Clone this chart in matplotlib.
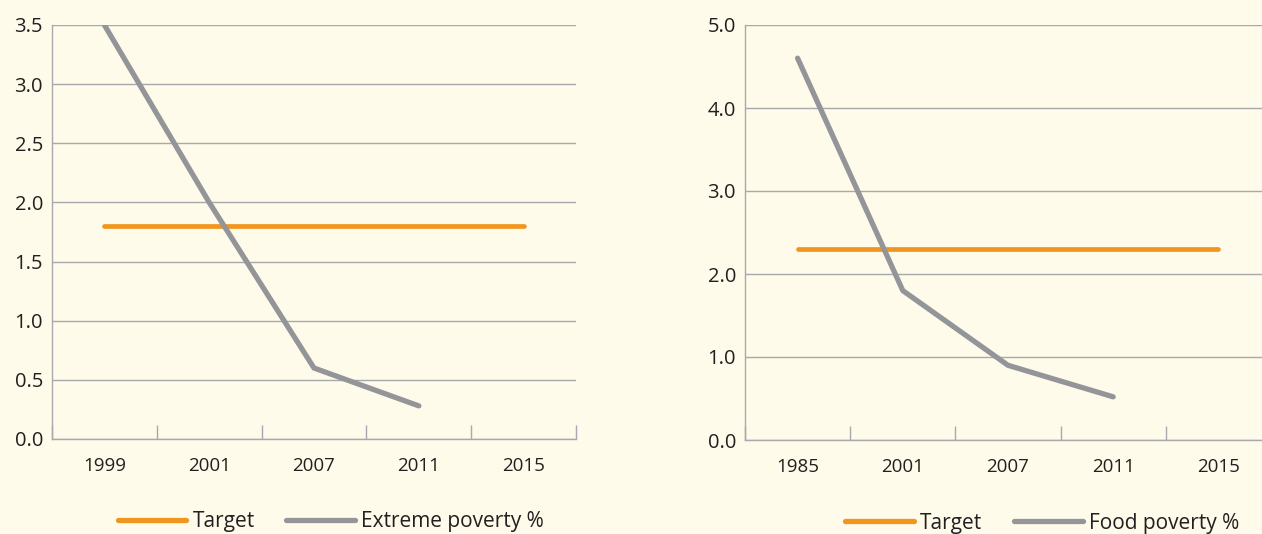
import matplotlib.pyplot as plt
from matplotlib.lines import Line2D

# left panel
years_l = ["1999", "2001", "2007", "2011", "2015"]
extreme = [3.5, 2.0, 0.6, 0.28]
target_l = [1.8, 1.8, 1.8, 1.8, 1.8]

# right panel
years_r = ["1985", "2001", "2007", "2011", "2015"]
food = [4.6, 1.8, 0.9, 0.52]
target_r = [2.3, 2.3, 2.3, 2.3, 2.3]

BG = "#fffbea"
ORANGE = "#f0961f"
GREY = "#939598"
GRID = "#a7a9ac"
TXT = "#231f20"

plt.rcParams['font.family'] = ['Open Sans', 'DejaVu Sans']

fig = plt.figure(figsize=(12.62, 5.34), dpi=100, facecolor=BG)


def panel(rect, years, series, target, ymax, ystep, name, leg_x):
    ax = fig.add_axes(rect)
    ax.set_facecolor(BG)
    x = list(range(len(years)))
    ax.plot(x, target, color=ORANGE, lw=3.4, solid_capstyle='round', zorder=3)
    ax.plot(x[:len(series)], series, color=GREY, lw=3.8, solid_capstyle='round', zorder=4)
    ax.set_xlim(-0.5, len(years) - 0.5)
    ax.set_ylim(0, ymax)
    yt = [i * ystep for i in range(int(round(ymax / ystep)) + 1)]
    ax.set_yticks(yt)
    ax.set_yticklabels(["{:.1f}".format(v) for v in yt], color=TXT, fontsize=14.5)
    ax.set_xticks(x)
    ax.set_xticklabels(years, color=TXT, fontsize=13.5)
    ax.set_xticks([i + 0.5 for i in range(-1, len(years))], minor=True)
    ax.tick_params(axis='x', which='major', length=0, pad=13)
    ax.tick_params(axis='x', which='minor', direction='in', length=10, color=GRID, width=1)
    ax.tick_params(axis='y', length=0, pad=6.5)
    ax.grid(axis='y', color=GRID, lw=1)
    ax.set_axisbelow(True)
    for s in ['top', 'right']:
        ax.spines[s].set_visible(False)
    for s in ['left', 'bottom']:
        ax.spines[s].set_color(GRID)
        ax.spines[s].set_linewidth(1)
    handles = [Line2D([], [], color=ORANGE, lw=3.8, solid_capstyle='round'),
               Line2D([], [], color=GREY, lw=3.8, solid_capstyle='round')]
    ax.legend(handles, ["Target", name], loc='center', bbox_to_anchor=(leg_x, -0.2),
              ncol=2, frameon=False, fontsize=15, handlelength=3.3, handletextpad=0.3,
              columnspacing=1.5, labelcolor=TXT)
    return ax


panel([52 / 1262, 95 / 534, 524 / 1262, 414 / 534], years_l, extreme, target_l,
      3.5, 0.5, "Extreme poverty %", 0.532)
panel([745 / 1262, 94 / 534, 526 / 1262, 415 / 534], years_r, food, target_r,
      5.0, 1.0, "Food poverty %", 0.565)

fig.savefig("out.png", dpi=100, facecolor=BG)
